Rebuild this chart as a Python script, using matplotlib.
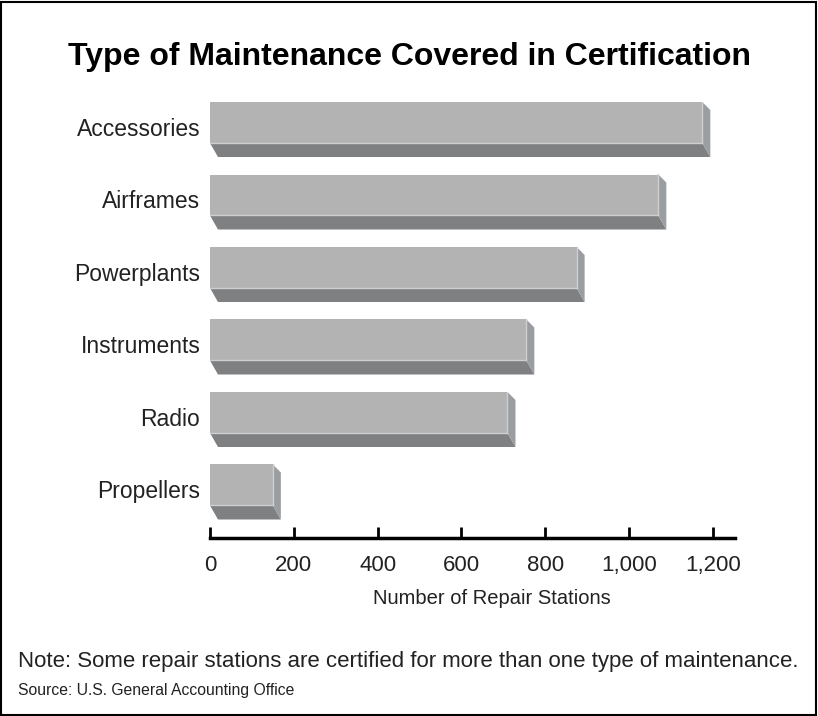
import matplotlib
matplotlib.use("Agg")
import matplotlib.pyplot as plt
from matplotlib.patches import Polygon, Rectangle
from matplotlib.ticker import FuncFormatter

plt.rcParams['font.family'] = ['Liberation Sans', 'DejaVu Sans']

# data
categories = ['Accessories', 'Airframes', 'Powerplants', 'Instruments', 'Radio', 'Propellers']
stations = [1175, 1070, 875, 755, 710, 150]
xticks = [0, 200, 400, 600, 800, 1000, 1200]

# figure, 818x716 px
fig = plt.figure(figsize=(8.18, 7.16), dpi=100)
W, H = 818, 716

# axes area in pixels: x 210..735, y 95..538 (axis line)
ax = fig.add_axes([210 / W, (H - 538) / H, (735 - 210) / W, (538 - 95) / H])
xmax = 1253
ax.set_xlim(0, xmax)
ax.set_ylim(538, 95)   # y in pixels, downward

px = xmax / (735 - 210)   # data units per pixel along x
front_h = 41
dx = 8 * px
dy_top = 8
dy_bot = 14
step = 72.5

tops = [102 + i * step for i in range(len(categories))]
centers = [t + front_h / 2 for t in tops]

ax.barh(centers, stations, height=front_h, left=0, color='#b3b3b3',
        edgecolor='none', zorder=3)
for t, v in zip(tops, stations):
    b = t + front_h
    # bottom face
    ax.add_patch(Polygon([(0, b), (v, b), (v + dx, b + dy_bot), (dx, b + dy_bot)],
                         closed=True, facecolor='#7f8082', edgecolor='none', zorder=2))
    # right face
    ax.add_patch(Polygon([(v, t), (v + dx, t + dy_top), (v + dx, b + dy_bot), (v, b)],
                         closed=True, facecolor='#9a9ea2', edgecolor='none', zorder=2))
    # light edge between faces
    ax.plot([0, v], [b, b], color='#cfcfcf', lw=1, zorder=4)
    ax.plot([v, v], [t, b], color='#cfcfcf', lw=1, zorder=4)

# y labels
ax.set_yticks([t + 25 for t in tops])
ax.set_yticklabels(categories, fontsize=16.5, color='#222222')
ax.tick_params(axis='y', length=0, pad=7)

# x axis
ax.set_xticks(xticks)
ax.xaxis.set_major_formatter(FuncFormatter(lambda v, p: f'{int(v):,}'))
ax.tick_params(axis='x', direction='in', length=8, width=2, labelsize=16,
               pad=12, colors='black', labelcolor='#222222')
ax.set_xlabel('Number of Repair Stations', fontsize=14.5, color='#222222')
ax.xaxis.set_label_coords((492 - 210) / (735 - 210), -(598 - 538) / (538 - 95))
ax.xaxis.label.set_va('center')

for s in ['top', 'right', 'left']:
    ax.spines[s].set_visible(False)
ax.spines['bottom'].set_linewidth(2.5)

# title and notes
fig.text(409 / W, 1 - 57 / H, 'Type of Maintenance Covered in Certification',
         ha='center', va='center', fontsize=23, fontweight='bold')
fig.text(18 / W, 1 - 662 / H,
         'Note: Some repair stations are certified for more than one type of maintenance.',
         ha='left', va='center', fontsize=16, color='#222222')
fig.text(18 / W, 1 - 690 / H, 'Source: U.S. General Accounting Office',
         ha='left', va='center', fontsize=11.3, color='#222222')

# border
fig.patches.append(Rectangle((1 / W, 1 / H), 1 - 3 / W, 1 - 3 / H, transform=fig.transFigure,
                             fill=False, edgecolor='black', linewidth=1.5))

plt.savefig('out.png', dpi=100)
